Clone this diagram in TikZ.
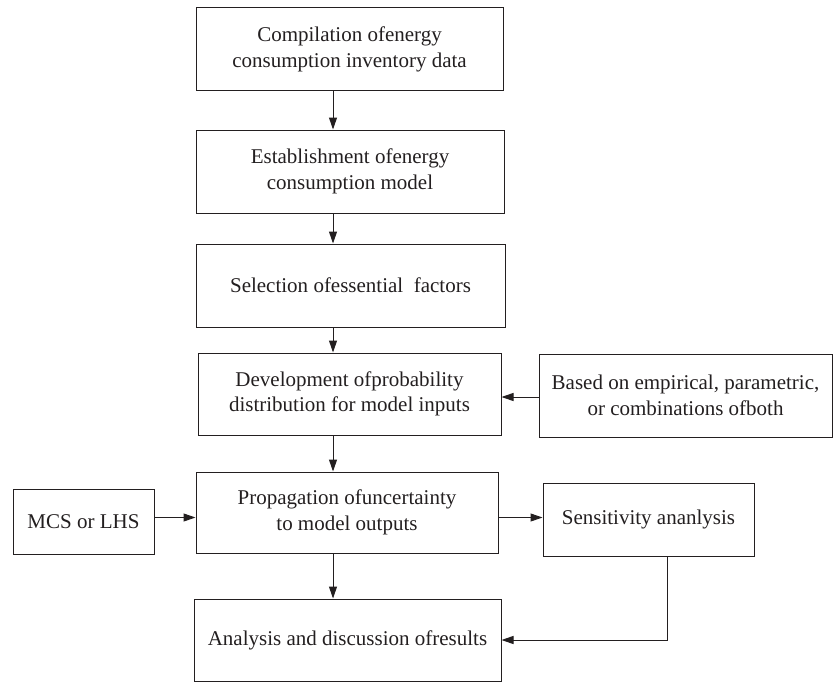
\documentclass[tikz,border=0pt]{standalone}
\usepackage{fontspec}
\setmainfont{Liberation Serif}
\usetikzlibrary{arrows.meta}
\definecolor{ink}{RGB}{35,31,32}
\begin{document}
\begin{tikzpicture}[x=1pt,y=-1pt,
  box/.style={draw=ink,line width=1pt,text=ink,align=center,inner sep=0pt,
    font=\fontsize{21}{25.5}\selectfont},
  arr/.style={draw=ink,line width=1pt,-{Triangle[length=12pt,width=8pt]}}]
\useasboundingbox (0,0) rectangle (834,682);
\node[box,minimum width=307,minimum height=83] (b1) at (349.5,49.5) {Compilation ofenergy\\consumption inventory data};
\node[box,minimum width=308,minimum height=83] (b2) at (350,171.5) {Establishment ofenergy\\consumption model};
\node[box,minimum width=309,minimum height=83] (b3) at (350.5,285.5) {Selection ofessential\ \ factors};
\node[box,minimum width=303,minimum height=82] (b4) at (349.5,394) {Development ofprobability\\distribution for model inputs};
\node[box,minimum width=293,minimum height=83] (rb) at (685.5,395.5) {Based on empirical, parametric,\\or combinations ofboth};
\node[box,minimum width=302,minimum height=81] (b5) at (347,512.5) {Propagation ofuncertainty\\to model outputs};
\node[box,minimum width=141,minimum height=65] (mcs) at (83.5,521.5) {MCS or LHS};
\node[box,minimum width=211,minimum height=73] (sens) at (648.5,519.5) {Sensitivity ananlysis};
\node[box,minimum width=307,minimum height=82] (b6) at (347.5,640) {Analysis and discussion ofresults};
\coordinate (ax) at (333,0);
\coordinate (ay) at (0,517.5);
\coordinate (ry) at (0,397);
\coordinate (sx) at (667,0);
\draw[arr] (b1.south -| ax) -- (b2.north -| ax);
\draw[arr] (b2.south -| ax) -- (b3.north -| ax);
\draw[arr] (b3.south -| ax) -- (b4.north -| ax);
\draw[arr] (b4.south -| ax) -- (b5.north -| ax);
\draw[arr] (b5.south -| ax) -- (b6.north -| ax);
\draw[arr] (rb.west |- ry) -- (b4.east |- ry);
\draw[arr] (mcs.east |- ay) -- (b5.west |- ay);
\draw[arr] (b5.east |- ay) -- (sens.west |- ay);
\draw[arr] (sens.south -| sx) |- (b6.east);
\end{tikzpicture}
\end{document}
